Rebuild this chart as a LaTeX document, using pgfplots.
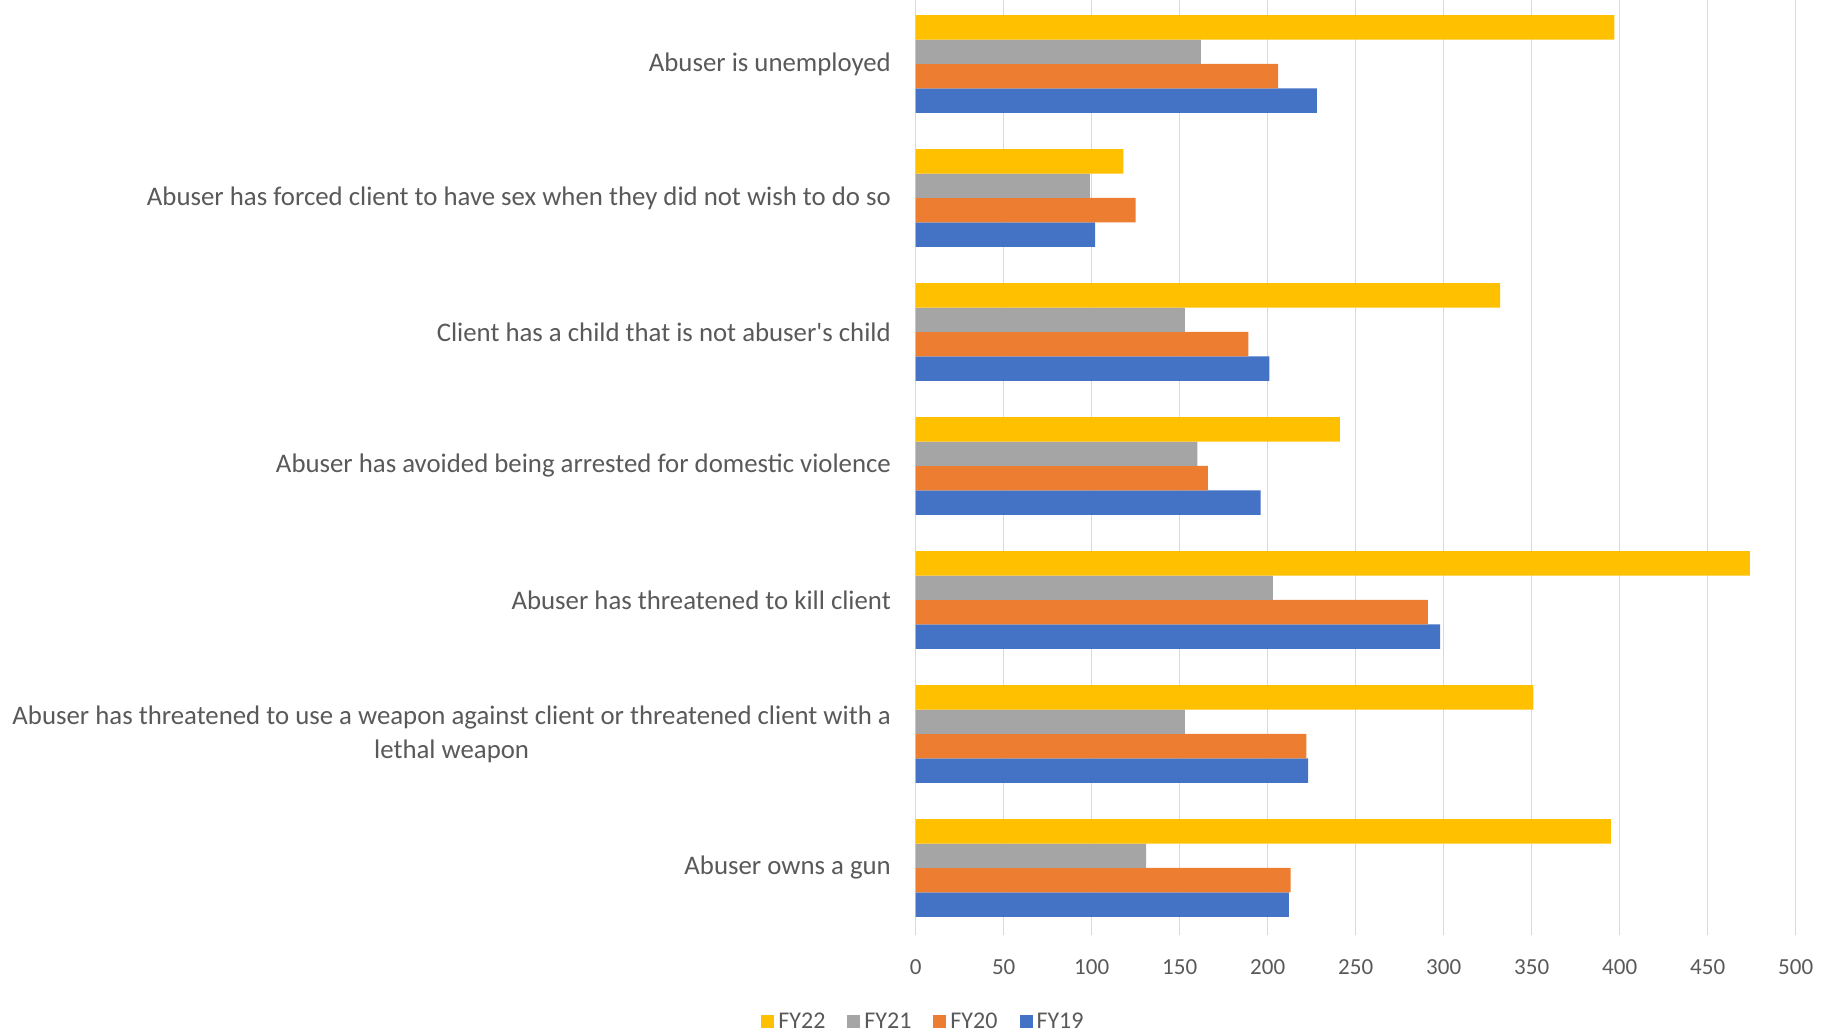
\documentclass[border=0pt]{standalone}
\usepackage{fontspec}
\setmainfont{Carlito}
\usepackage{pgfplots}
\pgfplotsset{compat=1.18}
\definecolor{cFYxxii}{HTML}{FFC000}
\definecolor{cFYxxi}{HTML}{A5A5A5}
\definecolor{cFYxx}{HTML}{ED7D31}
\definecolor{cFYxix}{HTML}{4472C4}
\definecolor{txtgrey}{HTML}{595959}
\definecolor{gridgrey}{HTML}{D9D9D9}

\begin{document}
\begin{tikzpicture}
\useasboundingbox (-457.85pt,-49pt) rectangle (460.65pt,467.5pt);
\begin{axis}[
    at={(0pt,0pt)}, anchor=south west,
    scale only axis,
    width=440pt, height=469pt,
    xbar=0pt, bar width=12.2pt,
    xmin=0, xmax=500,
    ymin=-0.5, ymax=6.5,
    xtick={0,50,...,500},
    ytick={0,1,2,3,4,5,6},
    yticklabels={
        Abuser owns a gun,
        {Abuser has threatened to use a weapon against client or threatened client with a\\lethal weapon},
        Abuser has threatened to kill client,
        Abuser has avoided being arrested for domestic violence,
        Client has a child that is not abuser\textquotesingle s child,
        Abuser has forced client to have sex when they did not wish to do so,
        Abuser is unemployed},
    axis line style={draw=none},
    major tick length=0pt,
    xmajorgrids,
    grid style={gridgrey, line width=0.75pt},
    /pgf/number format/assume math mode=true,
    xticklabel style={font=\fontsize{11.5}{13}\selectfont, text=txtgrey, yshift=-9pt},
    yticklabel style={font=\fontsize{13.4}{17}\selectfont, text=txtgrey, align=center, xshift=-8.9pt},
    legend style={draw=none, fill=none, at={(axis description cs:0.01,-0.0925)}, anchor=center,
        font=\fontsize{12}{14}\selectfont, text=txtgrey, legend columns=4},
    legend image code/.code={\fill[#1] (0pt,-3.25pt) rectangle (6.5pt,3.25pt);},
    /tikz/every even column/.append style={column sep=9pt},
    reverse legend,
]
\addplot[fill=cFYxix, draw=none] coordinates {
    (212,0) (223,1) (298,2) (196,3) (201,4) (102,5) (228,6)
};
\addlegendentry{FY19}
\addplot[fill=cFYxx, draw=none] coordinates {
    (213,0) (222,1) (291,2) (166,3) (189,4) (125,5) (206,6)
};
\addlegendentry{FY20}
\addplot[fill=cFYxxi, draw=none] coordinates {
    (131,0) (153,1) (203,2) (160,3) (153,4) (99,5) (162,6)
};
\addlegendentry{FY21}
\addplot[fill=cFYxxii, draw=none] coordinates {
    (395,0) (351,1) (474,2) (241,3) (332,4) (118,5) (397,6)
};
\addlegendentry{FY22}
\end{axis}
\end{tikzpicture}
\end{document}
